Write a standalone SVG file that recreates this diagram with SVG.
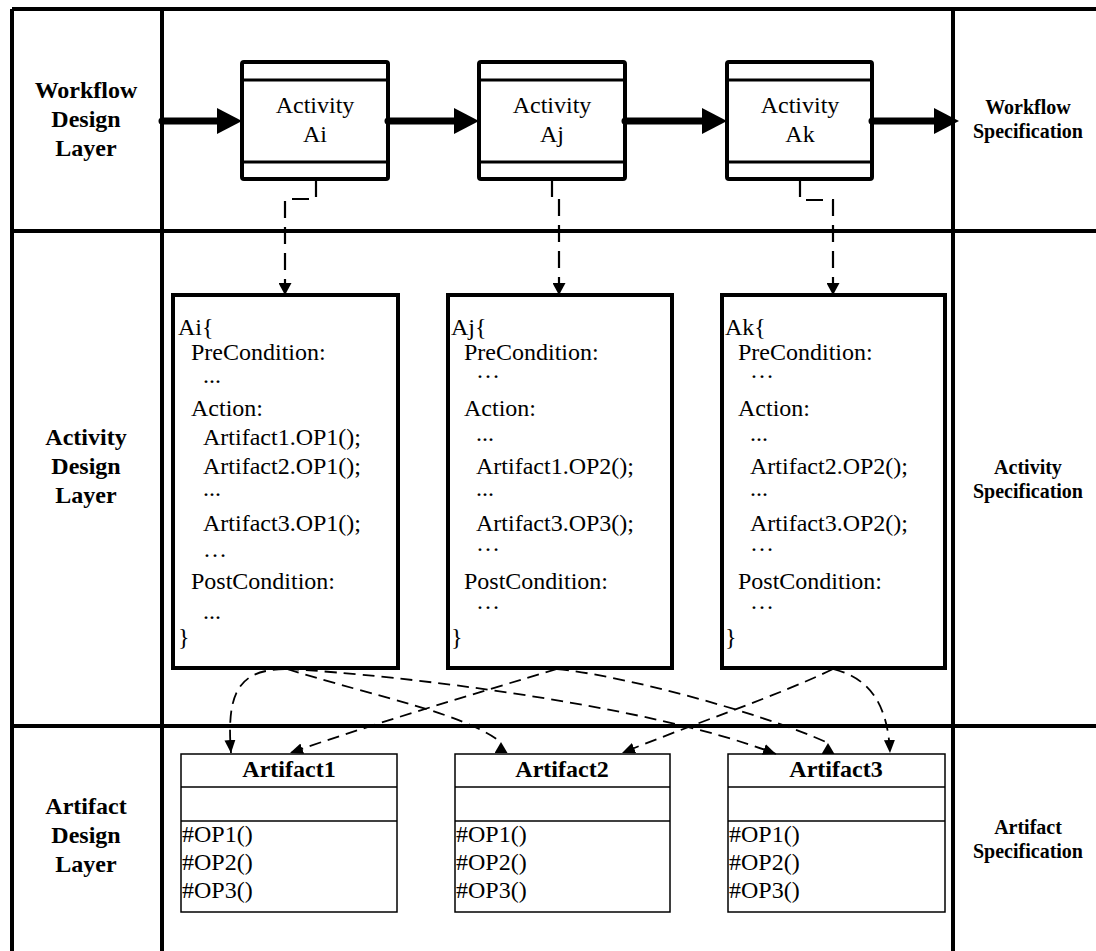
<svg xmlns="http://www.w3.org/2000/svg" width="1096" height="951" viewBox="0 0 1096 951">
  <defs>
    <style>
      .grid{stroke:#000;stroke-width:4;fill:none}
      .lbl{font-family:"Liberation Serif","Times New Roman",serif;font-weight:bold;font-size:24px;text-anchor:middle;fill:#000}
      .spec{font-family:"Liberation Serif","Times New Roman",serif;font-weight:bold;font-size:20px;text-anchor:middle;fill:#000}
      .t{font-family:"Liberation Serif","Times New Roman",serif;font-size:24px;fill:#000}
      .tb{font-family:"Liberation Serif","Times New Roman",serif;font-size:24px;font-weight:bold;text-anchor:middle;fill:#000}
      .mid{text-anchor:middle}
      .act{fill:#fff;stroke:#000;stroke-width:4}
      .actln{stroke:#000;stroke-width:3}
      .code{fill:#fff;stroke:#000;stroke-width:4}
      .cls{fill:#fff;stroke:#000;stroke-width:1.5}
      .clsln{stroke:#000;stroke-width:1.5}
      .flow{stroke:#000;stroke-width:7;stroke-linecap:round;fill:none;marker-end:url(#big)}
      .trace{stroke:#000;stroke-width:2.2;stroke-dasharray:17 9;fill:none;marker-end:url(#mid)}
      .use{stroke:#000;stroke-width:1.8;stroke-dasharray:12 7;fill:none;marker-end:url(#sm)}
      .useup{stroke:#000;stroke-width:1.8;stroke-dasharray:12 7;fill:none;marker-end:url(#smup)}
    </style>
    <marker id="big" markerUnits="userSpaceOnUse" markerWidth="26" markerHeight="26" refX="0" refY="13" orient="auto">
      <path d="M0,0 L25,13 L0,26 z" fill="#000"/>
    </marker>
    <marker id="mid" markerUnits="userSpaceOnUse" markerWidth="13" markerHeight="13" refX="12" refY="6.5" orient="auto">
      <path d="M0,0 L12,6.5 L0,13 z" fill="#000"/>
    </marker>
    <marker id="sm" markerUnits="userSpaceOnUse" markerWidth="13" markerHeight="12" refX="13" refY="5.5" orient="auto">
      <path d="M0,0 L13,5.5 L0,11 z" fill="#000"/>
    </marker>
    <marker id="smup" markerUnits="userSpaceOnUse" markerWidth="12" markerHeight="13" refX="11" refY="6.5" orient="-90">
      <path d="M0,0 L11,6.5 L0,13 z" fill="#000"/>
    </marker>
  </defs>

  <rect width="1096" height="951" fill="#fff"/>

  <!-- layer grid -->
  <g id="grid" class="grid">
    <path d="M12,9 H1096"/>
    <path d="M12,9 V951"/>
    <path d="M162,9 V951"/>
    <path d="M953,9 V951"/>
    <path d="M12,231 H1096"/>
    <path d="M12,726 H1096"/>
  </g>

  <!-- layer names -->
  <g id="layer-workflow">
    <text class="lbl" x="86" y="98">Workflow</text>
    <text class="lbl" x="86" y="127">Design</text>
    <text class="lbl" x="86" y="156">Layer</text>
  </g>
  <g id="layer-activity">
    <text class="lbl" x="86" y="445">Activity</text>
    <text class="lbl" x="86" y="474">Design</text>
    <text class="lbl" x="86" y="503">Layer</text>
  </g>
  <g id="layer-artifact">
    <text class="lbl" x="86" y="814">Artifact</text>
    <text class="lbl" x="86" y="843">Design</text>
    <text class="lbl" x="86" y="872">Layer</text>
  </g>

  <!-- specification names -->
  <g id="spec-workflow">
    <text class="spec" x="1028" y="114">Workflow</text>
    <text class="spec" x="1028" y="138">Specification</text>
  </g>
  <g id="spec-activity">
    <text class="spec" x="1028" y="474">Activity</text>
    <text class="spec" x="1028" y="498">Specification</text>
  </g>
  <g id="spec-artifact">
    <text class="spec" x="1028" y="834">Artifact</text>
    <text class="spec" x="1028" y="858">Specification</text>
  </g>

  <!-- workflow activities -->
  <g id="activity-ai">
    <rect class="act" x="242" y="62" width="146" height="117" rx="2"/>
    <line class="actln" x1="242" y1="80" x2="388" y2="80"/>
    <line class="actln" x1="242" y1="162" x2="388" y2="162"/>
    <text class="t mid" x="315" y="113">Activity</text>
    <text class="t mid" x="315" y="142">Ai</text>
  </g>
  <g id="activity-aj">
    <rect class="act" x="479" y="62" width="146" height="117" rx="2"/>
    <line class="actln" x1="479" y1="80" x2="625" y2="80"/>
    <line class="actln" x1="479" y1="162" x2="625" y2="162"/>
    <text class="t mid" x="552" y="113">Activity</text>
    <text class="t mid" x="552" y="142">Aj</text>
  </g>
  <g id="activity-ak">
    <rect class="act" x="727" y="62" width="145" height="117" rx="2"/>
    <line class="actln" x1="727" y1="80" x2="872" y2="80"/>
    <line class="actln" x1="727" y1="162" x2="872" y2="162"/>
    <text class="t mid" x="800" y="113">Activity</text>
    <text class="t mid" x="800" y="142">Ak</text>
  </g>

  <!-- activity definitions -->
  <g id="def-ai">
    <rect class="code" x="173" y="295" width="225" height="373"/>
    <text class="t" x="178" y="335">Ai{</text>
    <text class="t" x="191" y="360">PreCondition:</text>
    <text class="t" x="203" y="383">...</text>
    <text class="t" x="191" y="416">Action:</text>
    <text class="t" x="203" y="445">Artifact1.OP1();</text>
    <text class="t" x="203" y="474">Artifact2.OP1();</text>
    <text class="t" x="203" y="496">...</text>
    <text class="t" x="203" y="531">Artifact3.OP1();</text>
    <text class="t" x="203" y="557">…</text>
    <text class="t" x="191" y="589">PostCondition:</text>
    <text class="t" x="203" y="619">...</text>
    <text class="t" x="178" y="645">}</text>
  </g>
  <g id="def-aj">
    <rect class="code" x="448" y="295" width="224" height="373"/>
    <text class="t" x="451" y="335">Aj{</text>
    <text class="t" x="464" y="360">PreCondition:</text>
    <text class="t" x="476" y="378">…</text>
    <text class="t" x="464" y="416">Action:</text>
    <text class="t" x="476" y="441">...</text>
    <text class="t" x="476" y="474">Artifact1.OP2();</text>
    <text class="t" x="476" y="496">...</text>
    <text class="t" x="476" y="531">Artifact3.OP3();</text>
    <text class="t" x="476" y="551">…</text>
    <text class="t" x="464" y="589">PostCondition:</text>
    <text class="t" x="476" y="609">…</text>
    <text class="t" x="451" y="645">}</text>
  </g>
  <g id="def-ak">
    <rect class="code" x="722" y="295" width="223" height="373"/>
    <text class="t" x="725" y="335">Ak{</text>
    <text class="t" x="738" y="360">PreCondition:</text>
    <text class="t" x="750" y="378">…</text>
    <text class="t" x="738" y="416">Action:</text>
    <text class="t" x="750" y="441">...</text>
    <text class="t" x="750" y="474">Artifact2.OP2();</text>
    <text class="t" x="750" y="496">...</text>
    <text class="t" x="750" y="531">Artifact3.OP2();</text>
    <text class="t" x="750" y="551">…</text>
    <text class="t" x="738" y="589">PostCondition:</text>
    <text class="t" x="750" y="609">…</text>
    <text class="t" x="725" y="645">}</text>
  </g>

  <!-- artifact classes -->
  <g id="artifact1">
    <rect class="cls" x="181" y="754" width="216" height="158"/>
    <line class="clsln" x1="181" y1="787" x2="397" y2="787"/>
    <line class="clsln" x1="181" y1="821" x2="397" y2="821"/>
    <text class="tb" x="289" y="777">Artifact1</text>
    <text class="t" x="182" y="842">#OP1()</text>
    <text class="t" x="182" y="870">#OP2()</text>
    <text class="t" x="182" y="898">#OP3()</text>
  </g>
  <g id="artifact2">
    <rect class="cls" x="455" y="754" width="215" height="158"/>
    <line class="clsln" x1="455" y1="787" x2="670" y2="787"/>
    <line class="clsln" x1="455" y1="821" x2="670" y2="821"/>
    <text class="tb" x="562" y="777">Artifact2</text>
    <text class="t" x="456" y="842">#OP1()</text>
    <text class="t" x="456" y="870">#OP2()</text>
    <text class="t" x="456" y="898">#OP3()</text>
  </g>
  <g id="artifact3">
    <rect class="cls" x="728" y="754" width="217" height="158"/>
    <line class="clsln" x1="728" y1="787" x2="945" y2="787"/>
    <line class="clsln" x1="728" y1="821" x2="945" y2="821"/>
    <text class="tb" x="836" y="777">Artifact3</text>
    <text class="t" x="729" y="842">#OP1()</text>
    <text class="t" x="729" y="870">#OP2()</text>
    <text class="t" x="729" y="898">#OP3()</text>
  </g>

  <!-- connectors -->
  <g id="connectors">
    <!-- control flow -->
    <path class="flow" d="M162,121 H217"/>
    <path class="flow" d="M388,121 H454"/>
    <path class="flow" d="M625,121 H702"/>
    <path class="flow" d="M872,121 H934"/>
    <!-- activity to definition -->
    <path class="trace" d="M316,180 V199 H285 V295"/>
    <path class="trace" d="M552,180 V198 H559 V295"/>
    <path class="trace" d="M800,180 V200 H833 V295"/>
    <!-- operation calls -->
    <path class="use" d="M285,669 C240,670 226,690 231,753"/>
    <path class="useup" d="M287,669 C380,698 460,712 501,742"/>
    <path class="use" d="M287,669 C400,675 650,705 776,754"/>
    <path class="use" d="M557,669 C480,692 360,728 290,753"/>
    <path class="useup" d="M557,669 C620,675 760,712 828,743"/>
    <path class="use" d="M833,669 C780,695 690,725 622,753"/>
    <path class="use" d="M833,669 C870,678 888,705 890,753"/>
  </g>
</svg>
